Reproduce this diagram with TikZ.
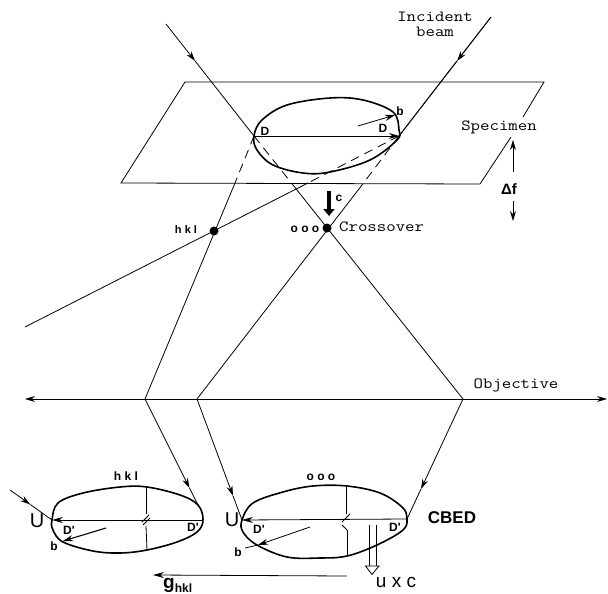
\documentclass[tikz,border=0pt]{standalone}
\usepackage{fontspec}
\setsansfont{Liberation Sans}
\usetikzlibrary{arrows.meta,calc}
\tikzset{
  ray/.style={line width=0.8pt},
  tip/.style={-{Stealth[length=10pt,width=6pt]}},
  disc/.style={line width=1.6pt,smooth cycle,tension=0.6},
  ttlabel/.style={inner sep=0pt,xscale=1.18,font=\ttfamily\fontsize{15.5}{15}\selectfont},
  sflabel/.style={inner sep=0pt,font=\sffamily\fontsize{11}{12}\selectfont},
  bflabel/.style={inner sep=0pt,font=\sffamily\bfseries\fontsize{12}{13}\selectfont},
  biglabel/.style={inner sep=0pt,font=\sffamily\fontsize{19}{20}\selectfont}
}
\begin{document}
\begin{tikzpicture}[x=1pt,y=-1pt]
  \useasboundingbox (0,0) rectangle (608,594);
  % specimen plane
  \coordinate (pa) at (185,82); \coordinate (pb) at (544,82); \coordinate (pc) at (523,117);
  \coordinate (pd) at (511,137); \coordinate (pe) at (480,184); \coordinate (pf) at (121,183);
  \draw[ray] (pd)--(pe)--(pf)--(pa)--(pb)--(pc);
  % rays
  \coordinate (inL) at (166,24); \coordinate (inR) at (491,17);
  \coordinate (D1) at (254,136); \coordinate (D2) at (399,136);
  \coordinate (ooo) at (327,228); \coordinate (hkl) at (214,231);
  \coordinate (objL) at (25,399); \coordinate (objR) at (607,399);
  \coordinate (obj1) at (145,399); \coordinate (obj2) at (197,399); \coordinate (obj3) at (463,399);
  \coordinate (far) at (25,327);
  \coordinate (s1) at (297,190); \coordinate (s2) at (362,185);
  \coordinate (s3) at (235,183); \coordinate (s4) at (308,183);
  \draw[ray,tip] (inL)--($(inL)!0.33!(D1)$); \draw[ray] ($(inL)!0.33!(D1)$)--(D1);
  \draw[line width=1.1pt,tip] (inR)--($(inR)!0.37!(D2)$); \draw[line width=1.1pt] ($(inR)!0.37!(D2)$)--(D2);
  \draw[ray,dash pattern=on 9pt off 6pt] (D1)--(s1);
  \draw[ray,dash pattern=on 9pt off 6pt] (D2)--(s2);
  \draw[ray,dash pattern=on 9pt off 6pt] (D1)--(s3);
  \draw[ray,dash pattern=on 9pt off 6pt] (D2)--(s4);
  \draw[ray] (s1)--(obj3); \draw[ray] (s2)--(obj2);
  \draw[ray] (s3)--(obj1); \draw[ray] (s4)--(far);
  \draw[ray,{Stealth[length=10pt,width=6pt]}-{Stealth[length=10pt,width=6pt]}] (objL)--(objR);
  % top disc
  \draw[disc] plot coordinates {(254,136) (262,120) (287,105) (330,98) (363,100) (393,112) (399,130) (397,140) (370,160) (330,172) (303,173) (273,165) (257,150)};
  \draw[ray,tip] (D1)--(D2);
  \coordinate (bt0) at (358,126); \coordinate (bt1) at (395,115);
  \draw[ray,tip] (bt0)--(bt1);
  \coordinate (c0) at (329,191); \coordinate (c1) at (329,216);
  \draw[line width=4pt,-{Triangle[length=7pt,width=11pt]}] (c0)--(c1);
  \fill (ooo) circle (4.5pt); \fill (hkl) circle (4.5pt);
  % defocus
  \coordinate (f0) at (513,172); \coordinate (f1) at (513,140); \coordinate (f2) at (513,201); \coordinate (f3) at (513,221);
  \draw[ray,tip] (f0)--(f1); \draw[ray,tip] (f2)--(f3);
  % left disc
  \coordinate (LL) at (52,520); \coordinate (LR) at (203,520);
  \coordinate (LT) at (146,487); \coordinate (LB) at (147,550); \coordinate (LM) at (146,520);
  \coordinate (LU) at (10,490); \coordinate (lb0) at (106,528); \coordinate (lb1) at (63,541);
  \coordinate (LE) at (198,505);
  \draw[disc] plot coordinates {(52,520) (58,503) (83,493) (120,487) (147,487) (180,495) (198,505) (203,520) (197,532) (177,542) (147,550) (120,553) (93,551) (63,542) (53,530)};
  \draw[ray,tip] (LU)--($(LU)!0.48!(LL)$); \draw[ray] ($(LU)!0.48!(LL)$)--(LL);
  \draw[ray,tip] (obj1)--($(obj1)!0.84!(LE)$); \draw[ray] ($(obj1)!0.84!(LE)$)--(LE);
  \draw[ray,{Stealth[length=11pt,width=6pt]}-] (LL)--(LR);
  \draw[ray] (LT)--($(LM)+(0,-6)$); \draw[ray] ($(LM)+(0,6)$)--(LB);
  \draw[ray] ($(LM)+(-4,2)$)--($(LM)+(3,-5)$); \draw[ray] ($(LM)+(-3,5)$)--($(LM)+(4,-2)$);
  \draw[line width=1.1pt,tip] (lb0)--(lb1);
  % right disc
  \coordinate (RL) at (242,520); \coordinate (RR) at (407,519);
  \coordinate (RT) at (346,486); \coordinate (RB) at (347,556); \coordinate (RM) at (345,520);
  \coordinate (rb0) at (310,527); \coordinate (rb1) at (258,545); \coordinate (rb2) at (245,548);
  \draw[disc] plot coordinates {(242,520) (253,503) (283,492) (313,486) (347,486) (380,493) (402,507) (407,518) (403,530) (377,545) (347,556) (320,558) (287,557) (257,545) (243,532)};
  \draw[ray,tip] (obj2)--($(obj2)!0.80!(RL)$); \draw[ray] ($(obj2)!0.80!(RL)$)--(RL);
  \draw[ray,tip] (obj3)--($(obj3)!0.75!(RR)$); \draw[ray] ($(obj3)!0.75!(RR)$)--(RR);
  \draw[ray,{Stealth[length=11pt,width=6pt]}-] (RL)--(RR);
  \draw[ray] (RT)--($(RM)+(1,-6)$); \draw[ray] ($(RM)+(2,10)$)--(RB);
  \draw[ray] ($(RM)+(-3,2)$)--($(RM)+(5,-6)$); \draw[ray] ($(RM)+(-3,5)$)--($(RM)+(2,10)$);
  \draw[ray] (rb1)--(rb2);
  \draw[ray,tip] (rb0)--(rb1);
  % u x c
  \coordinate (ux0) at (369,525); \coordinate (ux1) at (369,566); \coordinate (ux2) at (376,525); \coordinate (ux3) at (376,566);
  \coordinate (ux4) at (365.5,566); \coordinate (ux5) at (372,574.5); \coordinate (ux6) at (379,566);
  \draw[ray] (ux0)--(ux1); \draw[ray] (ux2)--(ux3);
  \draw[ray] (ux4)--(ux5)--(ux6)--cycle;
  % g vector
  \coordinate (g0) at (347,576); \coordinate (g1) at (153,575);
  \draw[ray,-{Stealth[length=11pt,width=6pt]}] (g0)--(g1);
  % labels
  \node[ttlabel,align=center] (incident) at (435,24) {Incident\\beam};
  \node[ttlabel] (specimen) at (499,127) {Specimen};
  \node[ttlabel,anchor=west] (crossover) at (339,227) {Crossover};
  \node[ttlabel] (objective) at (516,385) {Objective};
  \node[bflabel,font=\sffamily\bfseries\fontsize{15}{16}\selectfont] (df) at (509,189) {Δf};
  \node[bflabel,font=\sffamily\bfseries\fontsize{11}{12}\selectfont] (hkltop) at (186,230) {h k l};
  \node[bflabel] (ooolab) at (305,229) {o o o};
  \node[bflabel] (clab) at (339,198) {c};
  \node[bflabel] (bt) at (400,111) {b};
  \node[bflabel] (dl) at (265,131) {D};
  \node[bflabel] (dr) at (383,128) {D};
  \node[bflabel] (hklb) at (126,476) {h k l};
  \node[bflabel] (ooob) at (321,477) {o o o};
  \node[sflabel] (ul) at (37,521) {\fontsize{20}{20}\selectfont U};
  \node[sflabel] (ur) at (232,520) {\fontsize{20}{20}\selectfont U};
  \node[bflabel] (dla) at (69,530) {D\textquotesingle};
  \node[bflabel] (dlb) at (193,527) {D\textquotesingle};
  \node[bflabel] (dra) at (259,529) {D\textquotesingle};
  \node[bflabel] (drb) at (395,527) {D\textquotesingle};
  \node[bflabel] (bl) at (54,546) {b};
  \node[bflabel] (br) at (238,552) {b};
  \node[inner sep=0pt,font=\sffamily\bfseries\fontsize{17}{18}\selectfont] (cbed) at (452,518) {CBED};
  \node[biglabel] (uxc) at (396,582) {u x c};
  \node[inner sep=0pt,font=\sffamily\bfseries\fontsize{19}{19}\selectfont,anchor=base west] (ghkl) at (163,588) {g\raisebox{-4.5pt}{\fontsize{12}{12}\selectfont hkl}};
\end{tikzpicture}
\end{document}
